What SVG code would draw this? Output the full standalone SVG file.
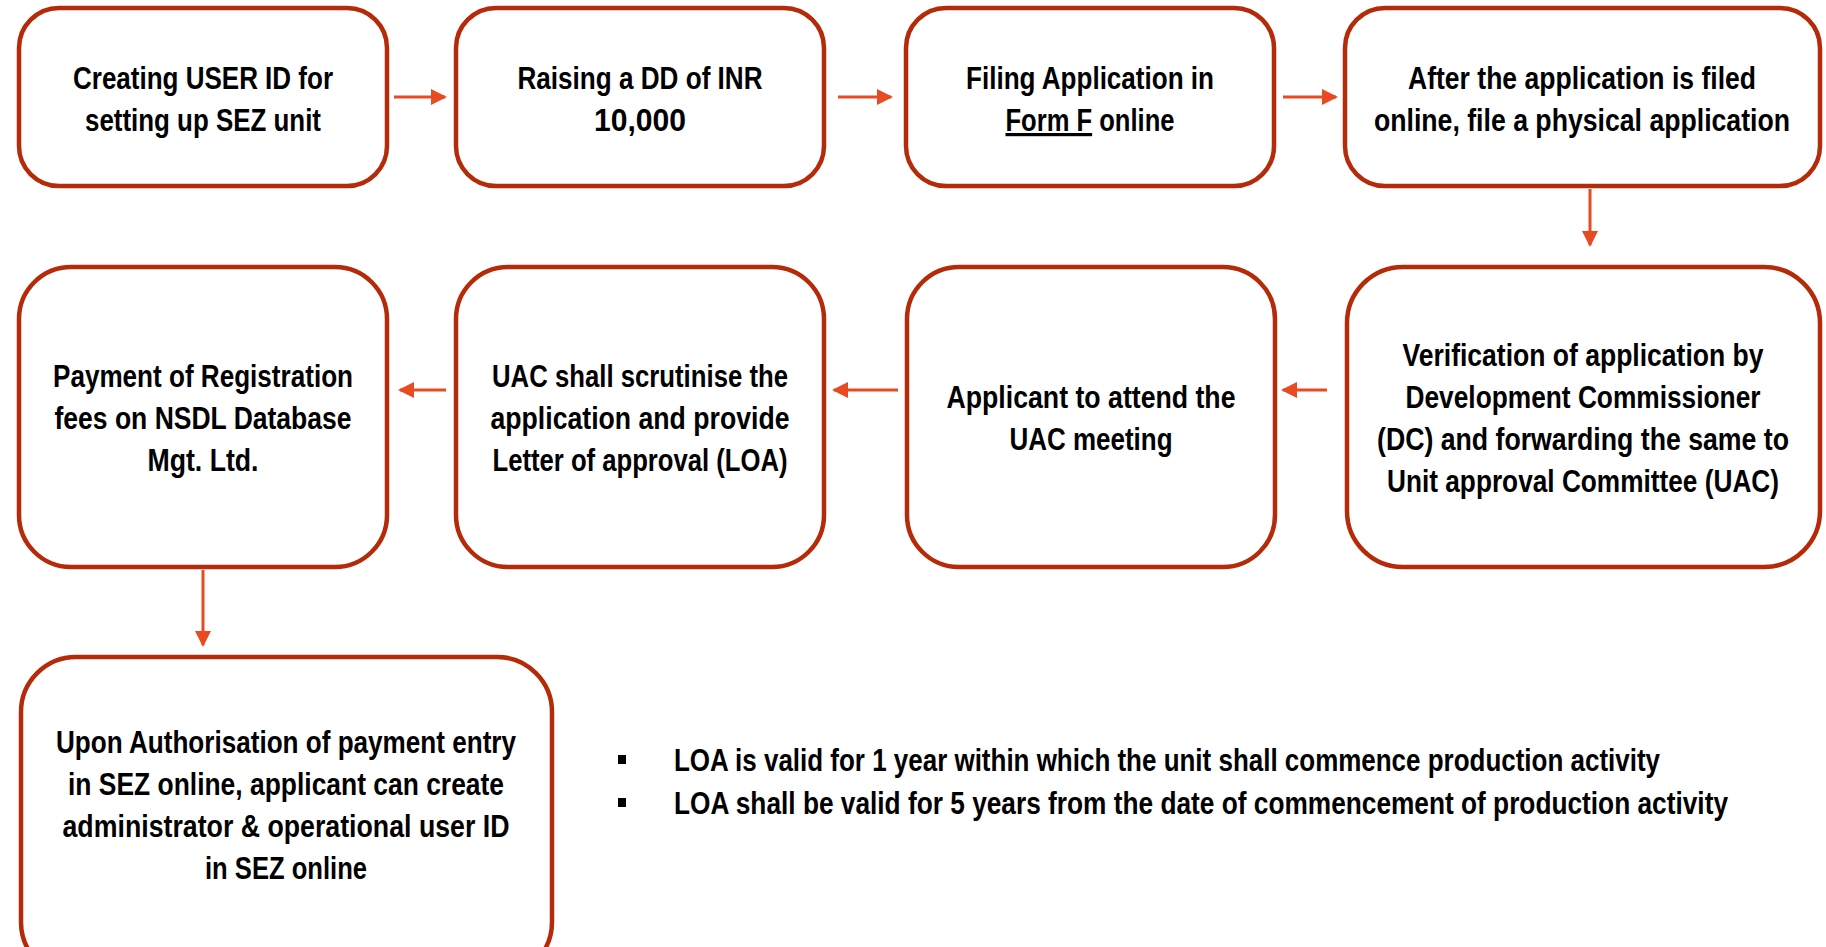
<svg xmlns="http://www.w3.org/2000/svg" width="1826" height="947" viewBox="0 0 1826 947">
<style>
.box{fill:#fff;stroke:#B52B0A;stroke-width:4.5}
.t{font-family:"Liberation Sans",Arial,sans-serif;font-size:32px;fill:#000;text-anchor:middle;font-weight:bold}
.b{font-family:"Liberation Sans",Arial,sans-serif;font-size:31px;fill:#000;font-weight:bold}
.c{stroke:#E84A22;stroke-width:3;fill:none}
</style>
<defs>
<marker id="ah" markerWidth="16" markerHeight="16" refX="14" refY="8" orient="auto" markerUnits="userSpaceOnUse">
<path d="M0,0 L16,8 L0,16 z" fill="#E84A22"/>
</marker>
</defs>
<rect width="1826" height="947" fill="#fff"/>
<g id="connectors">
<line class="c" x1="394" y1="97" x2="445" y2="97" marker-end="url(#ah)"/>
<line class="c" x1="838" y1="97" x2="891" y2="97" marker-end="url(#ah)"/>
<line class="c" x1="1283" y1="97" x2="1336" y2="97" marker-end="url(#ah)"/>
<line class="c" x1="1590" y1="189" x2="1590" y2="245" marker-end="url(#ah)"/>
<line class="c" x1="1327" y1="390" x2="1283" y2="390" marker-end="url(#ah)"/>
<line class="c" x1="898" y1="390" x2="834" y2="390" marker-end="url(#ah)"/>
<line class="c" x1="446" y1="390" x2="400" y2="390" marker-end="url(#ah)"/>
<line class="c" x1="203" y1="570" x2="203" y2="645" marker-end="url(#ah)"/>
</g>
<g id="n1"><rect class="box" x="19" y="8" width="368" height="178" rx="40"/>
<text class="t" x="203" y="89" textLength="260" lengthAdjust="spacingAndGlyphs">Creating USER ID for</text><text class="t" x="203" y="131" textLength="236" lengthAdjust="spacingAndGlyphs">setting up SEZ unit</text></g>
<g id="n2"><rect class="box" x="456" y="8" width="368" height="178" rx="40"/>
<text class="t" x="640" y="89" textLength="245" lengthAdjust="spacingAndGlyphs">Raising a DD of INR</text><text class="t" x="640" y="131" textLength="92" lengthAdjust="spacingAndGlyphs">10,000</text></g>
<g id="n3"><rect class="box" x="906" y="8" width="368" height="178" rx="40"/>
<text class="t" x="1090" y="89" textLength="248" lengthAdjust="spacingAndGlyphs">Filing Application in</text><text class="t" x="1090" y="131" textLength="169" lengthAdjust="spacingAndGlyphs"><tspan text-decoration="underline">Form F</tspan> online</text></g>
<g id="n4"><rect class="box" x="1345" y="8" width="475" height="178" rx="40"/>
<text class="t" x="1582" y="89" textLength="348" lengthAdjust="spacingAndGlyphs">After the application is filed</text><text class="t" x="1582" y="131" textLength="416" lengthAdjust="spacingAndGlyphs">online, file a physical application</text></g>
<g id="n5"><rect class="box" x="1347" y="267" width="473" height="300" rx="56"/>
<text class="t" x="1583" y="366" textLength="361" lengthAdjust="spacingAndGlyphs">Verification of application by</text><text class="t" x="1583" y="408" textLength="355" lengthAdjust="spacingAndGlyphs">Development Commissioner</text><text class="t" x="1583" y="450" textLength="412" lengthAdjust="spacingAndGlyphs">(DC) and forwarding the same to</text><text class="t" x="1583" y="492" textLength="392" lengthAdjust="spacingAndGlyphs">Unit approval Committee (UAC)</text></g>
<g id="n6"><rect class="box" x="907" y="267" width="368" height="300" rx="52"/>
<text class="t" x="1091" y="408" textLength="289" lengthAdjust="spacingAndGlyphs">Applicant to attend the</text><text class="t" x="1091" y="450" textLength="163" lengthAdjust="spacingAndGlyphs">UAC meeting</text></g>
<g id="n7"><rect class="box" x="456" y="267" width="368" height="300" rx="52"/>
<text class="t" x="640" y="387" textLength="296" lengthAdjust="spacingAndGlyphs">UAC shall scrutinise the</text><text class="t" x="640" y="429" textLength="299" lengthAdjust="spacingAndGlyphs">application and provide</text><text class="t" x="640" y="471" textLength="295" lengthAdjust="spacingAndGlyphs">Letter of approval (LOA)</text></g>
<g id="n8"><rect class="box" x="19" y="267" width="368" height="300" rx="52"/>
<text class="t" x="203" y="387" textLength="300" lengthAdjust="spacingAndGlyphs">Payment of Registration</text><text class="t" x="203" y="429" textLength="297" lengthAdjust="spacingAndGlyphs">fees on NSDL Database</text><text class="t" x="203" y="471" textLength="111" lengthAdjust="spacingAndGlyphs">Mgt. Ltd.</text></g>
<g id="n9"><rect class="box" x="21" y="657" width="531" height="320" rx="55"/>
<text class="t" x="286" y="753" textLength="460" lengthAdjust="spacingAndGlyphs">Upon Authorisation of payment entry</text><text class="t" x="286" y="795" textLength="436" lengthAdjust="spacingAndGlyphs">in SEZ online, applicant can create</text><text class="t" x="286" y="837" textLength="447" lengthAdjust="spacingAndGlyphs">administrator &amp; operational user ID</text><text class="t" x="286" y="879" textLength="162" lengthAdjust="spacingAndGlyphs">in SEZ online</text></g>
<g id="notes">
<rect x="618" y="755" width="8" height="9" fill="#000"/>
<rect x="618" y="798" width="8" height="9" fill="#000"/>
<text class="b" x="674" y="771" textLength="986" lengthAdjust="spacingAndGlyphs">LOA is valid for 1 year within which the unit shall commence production activity</text>
<text class="b" x="674" y="814" textLength="1054" lengthAdjust="spacingAndGlyphs">LOA shall be valid for 5 years from the date of commencement of production activity</text>
</g>
</svg>
